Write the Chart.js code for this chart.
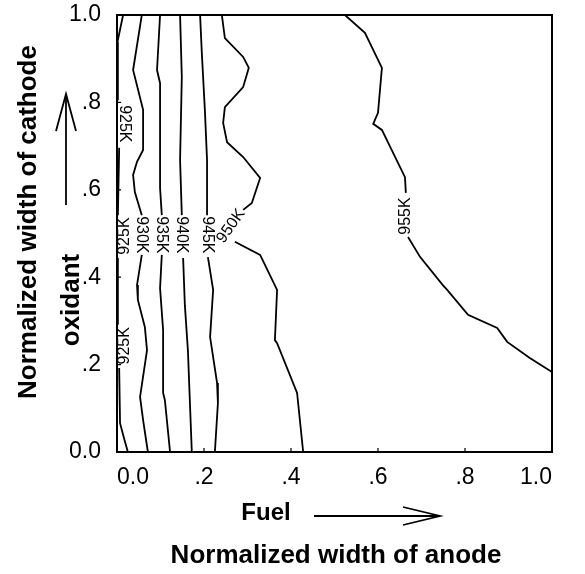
<!DOCTYPE html>
<html>
<head>
<meta charset="utf-8">
<script src="https://cdn.jsdelivr.net/npm/chart.js@4.4.0/dist/chart.umd.min.js"></script>
<style>
  html, body { margin: 0; padding: 0; background: #ffffff; }
  #wrap { width: 585px; height: 574px; }
</style>
</head>
<body>
<div id="wrap"><canvas id="chart" width="585" height="574"></canvas></div>
<script>
// Isotherm contour plot (temperature over normalized anode/cathode width)

// tick positions and their printed labels
const tickValues = [0, 0.2, 0.4, 0.6, 0.8, 1.0];
const tickText = ['0.0', '.2', '.4', '.6', '.8', '1.0'];

// contour lines, [x, y] pairs; null = break where the label sits
const c925 = [[0.014, 1.0], [0.001, 0.938], [0.002, 0.805], null,
  [0.005, 0.696], [0.002, 0.542], null,
  [0.002, 0.444], [0.002, 0.291], null,
  [0.005, 0.192], [0.007, 0.066], [0.016, 0.032], [0.025, 0]];
const c930 = [[0.057, 1.0], [0.037, 0.874], [0.060, 0.783], [0.060, 0.691], [0.046, 0.664],
  [0.037, 0.634], [0.041, 0.595], [0.057, 0.542], null,
  [0.057, 0.451], [0.046, 0.382], [0.048, 0.348], [0.064, 0.286], [0.069, 0.233],
  [0.053, 0.126], [0.060, 0.073], [0.071, 0]];
const c935 = [[0.099, 1.0], [0.092, 0.874], [0.099, 0.844], [0.099, 0.668], [0.099, 0.604],
  [0.103, 0.542], null,
  [0.103, 0.451], [0.099, 0.375], [0.106, 0.279], [0.106, 0.135], [0.110, 0.119], [0.122, 0]];
const c940 = [[0.145, 1.0], [0.149, 0.858], [0.145, 0.668], [0.149, 0.542], null,
  [0.152, 0.444], [0.156, 0.336], [0.163, 0.233], [0.172, 0]];
const c945 = [[0.191, 1.0], [0.195, 0.913], [0.202, 0.783], [0.207, 0.668], [0.207, 0.542], null,
  [0.209, 0.446], [0.221, 0.371], [0.214, 0.263], [0.230, 0.158], [0.232, 0.112], [0.225, 0]];
const c950 = [[0.241, 1.0], [0.248, 0.947], [0.290, 0.904], [0.303, 0.879], [0.290, 0.835],
  [0.248, 0.789], [0.244, 0.753], [0.253, 0.709], [0.290, 0.675], [0.329, 0.627],
  [0.310, 0.570], [0.290, 0.554], null,
  [0.271, 0.481], [0.329, 0.451], [0.368, 0.371], [0.363, 0.256], [0.368, 0.249],
  [0.414, 0.135], [0.428, 0]];
const c955 = [[0.524, 1.0], [0.570, 0.959], [0.609, 0.879], [0.600, 0.776], [0.589, 0.751],
  [0.609, 0.737], [0.628, 0.698], [0.662, 0.629], [0.664, 0.593], null,
  [0.669, 0.492], [0.697, 0.446], [0.749, 0.382], [0.759, 0.371], [0.807, 0.314],
  [0.874, 0.284], [0.897, 0.252], [0.949, 0.215], [1.0, 0.183]];

const contours = [c925, c930, c935, c940, c945, c950, c955];

// inline contour labels: text, data x, data y, angle (deg)
const labelText = ['925K', '925K', '925K', '930K', '935K', '940K', '945K', '950K', '955K'];
const labelX = [0.018, 0.018, 0.018, 0.057, 0.103, 0.149, 0.207, 0.262, 0.664];
const labelY = [0.751, 0.494, 0.243, 0.497, 0.497, 0.497, 0.497, 0.517, 0.540];
const labelAngle = [90, -90, -90, 90, 90, 90, 90, -55, -90];

const FONT = "'Liberation Sans', Arial, sans-serif";

// split each contour on the nulls -> one dataset per segment
function buildDatasets() {
  const out = [];
  contours.forEach(line => {
    let seg = [];
    line.concat([null]).forEach(p => {
      if (p === null) {
        if (seg.length) out.push(seg);
        seg = [];
      } else {
        seg.push({ x: p[0], y: p[1] });
      }
    });
  });
  return out.map(seg => ({
    data: seg,
    showLine: true,
    borderColor: '#000000',
    borderWidth: 1.8,
    pointRadius: 0,
    tension: 0,
    fill: false
  }));
}

function arrowHead(ctx, tipX, tipY, ax, ay, bx, by) {
  ctx.beginPath();
  ctx.moveTo(ax, ay);
  ctx.lineTo(tipX, tipY);
  ctx.lineTo(bx, by);
  ctx.stroke();
}

const decorPlugin = {
  id: 'decor',
  afterDatasetsDraw(chart) {
    const { ctx, chartArea: a, scales } = chart;
    const xs = scales.x, ys = scales.y;
    ctx.save();

    // frame
    ctx.strokeStyle = '#000';
    ctx.lineWidth = 2;
    ctx.strokeRect(a.left, a.top, a.right - a.left, a.bottom - a.top);

    // small inward ticks
    ctx.lineWidth = 1.2;
    tickValues.forEach(v => {
      const px = xs.getPixelForValue(v);
      const py = ys.getPixelForValue(v);
      ctx.beginPath();
      ctx.moveTo(px, a.bottom); ctx.lineTo(px, a.bottom - 4);
      ctx.moveTo(a.left, py); ctx.lineTo(a.left + 4, py);
      ctx.stroke();
    });

    // contour labels
    ctx.fillStyle = '#000';
    ctx.font = '16px ' + FONT;
    ctx.textAlign = 'center';
    ctx.textBaseline = 'middle';
    labelText.forEach((t, i) => {
      ctx.save();
      ctx.translate(xs.getPixelForValue(labelX[i]), ys.getPixelForValue(labelY[i]));
      ctx.rotate(labelAngle[i] * Math.PI / 180);
      ctx.fillText(t, 0, 0);
      ctx.restore();
    });

    // axis titles
    ctx.font = 'bold 26px ' + FONT;
    ctx.save();
    ctx.translate(29, 222);
    ctx.rotate(-Math.PI / 2);
    ctx.fillText('Normalized width of cathode', 0, 0);
    ctx.restore();

    ctx.save();
    ctx.translate(72, 300);
    ctx.rotate(-Math.PI / 2);
    ctx.fillText('oxidant', 0, 0);
    ctx.restore();

    ctx.fillText('Normalized width of anode', 336, 556);
    ctx.font = 'bold 24px ' + FONT;
    ctx.fillText('Fuel', 266, 513);

    // arrows
    ctx.lineWidth = 1.8;
    ctx.beginPath();
    ctx.moveTo(66, 205); ctx.lineTo(66, 96);
    ctx.stroke();
    arrowHead(ctx, 66, 94, 56, 131, 76, 131);

    ctx.beginPath();
    ctx.moveTo(314, 516); ctx.lineTo(438, 516);
    ctx.stroke();
    arrowHead(ctx, 440, 516, 403, 507, 403, 525);

    ctx.restore();
  }
};

const tickFont = { family: FONT, size: 23 };

new Chart(document.getElementById('chart'), {
  type: 'scatter',
  data: { datasets: buildDatasets() },
  options: {
    responsive: false,
    animation: false,
    layout: { padding: { top: 0, right: 33, left: 0, bottom: 0 } },
    plugins: { legend: { display: false }, tooltip: { enabled: false } },
    scales: {
      x: {
        type: 'linear', min: 0, max: 1,
        afterBuildTicks: s => { s.ticks = tickValues.map(v => ({ value: v })); },
        afterFit: s => { s.height = 122; },
        grid: { display: false, drawTicks: false },
        border: { display: false },
        ticks: {
          color: '#000', font: tickFont, padding: 12, maxRotation: 0, align: 'inner',
          callback: v => tickText[tickValues.indexOf(v)]
        }
      },
      y: {
        type: 'linear', min: 0, max: 1,
        afterBuildTicks: s => { s.ticks = tickValues.map(v => ({ value: v })); },
        afterFit: s => { s.width = 117; s.paddingTop = 15; s.paddingBottom = 0; },
        grid: { display: false, drawTicks: false },
        border: { display: false },
        ticks: {
          color: '#000', font: tickFont, padding: 16,
          callback: v => tickText[tickValues.indexOf(v)]
        }
      }
    }
  },
  plugins: [decorPlugin]
});
</script>
</body>
</html>
